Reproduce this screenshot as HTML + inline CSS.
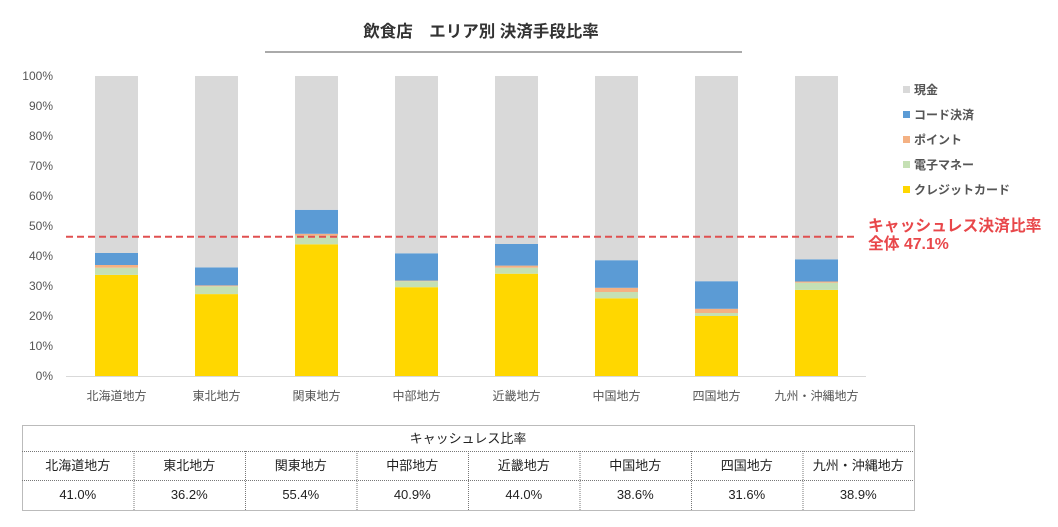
<!DOCTYPE html>
<html><head><meta charset="utf-8"><style>
body{margin:0;background:#fff;}
svg{display:block;font-family:"Liberation Sans","Noto Sans CJK JP",sans-serif;}
</style></head><body>
<svg id="chart" width="1058" height="527">
<text x="481" y="37" text-anchor="middle" font-size="16.5" font-weight="bold" fill="#333">飲食店　エリア別 決済手段比率</text>
<line x1="265" y1="52" x2="742" y2="52" stroke="#555" stroke-width="1"/>
<g id="yaxis"></g>
<g id="bars"></g>
<g id="xaxis"></g>
<g id="legend"></g>
<g id="refline"></g>
<g id="table"></g>
</svg>
<script>
const categories=["北海道地方","東北地方","関東地方","中部地方","近畿地方","中国地方","四国地方","九州・沖縄地方"];
const credit=[33.7,27.3,43.9,29.6,34.1,25.9,20.0,28.7];
const emoney=[2.4,2.6,2.9,2.0,2.0,2.1,1.0,2.4];
const point=[0.9,0.3,0.6,0.2,0.7,1.4,1.4,0.4];
const code=[4.0,6.0,8.0,9.1,7.2,9.2,9.2,7.4];
const cashlessLabels=["41.0%","36.2%","55.4%","40.9%","44.0%","38.6%","31.6%","38.9%"];
const yTicks=[0,10,20,30,40,50,60,70,80,90,100];
const average=47.1;
const NS="http://www.w3.org/2000/svg";
function mk(tag,attrs,parent,txt){const e=document.createElementNS(NS,tag);for(const k in attrs)e.setAttribute(k,attrs[k]);if(txt!==undefined)e.textContent=txt;parent.appendChild(e);return e;}
const y=v=>376-v*3;
const xc=i=>116.5+i*100;
const barW=43;
const yg=document.getElementById('yaxis');
yTicks.forEach(t=>{const e=mk('text',{x:53,y:y(t)+4,'text-anchor':'end','font-size':12,fill:'#555'},yg,t+'%');

});
const axisLine=mk('line',{x1:66,y1:376.5,x2:866,y2:376.5,stroke:'#d9d9d9'},yg);


const series=[["credit",credit,"#ffd700"],["emoney",emoney,"#c5e0b4"],["point",point,"#f4b183"],["code",code,"#5b9bd5"]];
const bg=document.getElementById('bars');
categories.forEach((c,i)=>{
 let base=0;
 series.forEach(([n,arr,col])=>{
  const v=arr[i];
  const r=mk('rect',{x:xc(i)-barW/2,y:y(base+v),width:barW,height:v*3,fill:col},bg);
  
  
  base+=v;
 });
 const r=mk('rect',{x:xc(i)-barW/2,y:y(100),width:barW,height:(100-base)*3,fill:'#d9d9d9'},bg);
 
 
 const t=mk('text',{x:xc(i),y:400,'text-anchor':'middle','font-size':12,fill:'#555'},document.getElementById('xaxis'),c);
 
 
});
const lg=document.getElementById('legend');
const legendItems=[["現金","#d9d9d9"],["コード決済","#5b9bd5"],["ポイント","#f4b183"],["電子マネー","#c5e0b4"],["クレジットカード","#ffd700"]];
legendItems.forEach(([n,col],k)=>{
 const yy=89+k*25;
 const s=mk('rect',{x:903,y:yy-3,width:7,height:7,fill:col},lg);
 
 
 const t=mk('text',{x:914,y:yy+5,'font-size':12,'font-weight':'bold',fill:'#555'},lg,n);
 
 
});
const rl=document.getElementById('refline');
const ln=mk('line',{x1:66,y1:y(average)+2,x2:856,y2:y(average)+2,stroke:'#e05050','stroke-width':2,'stroke-dasharray':'7,4'},rl);


const t1=mk('text',{x:868,y:231,'font-size':15.8,'font-weight':'bold',fill:'#e8474a'},rl,'キャッシュレス決済比率');


const t2=mk('text',{x:868,y:249,'font-size':15.8,'font-weight':'bold',fill:'#e8474a'},rl,'全体 '+average+'%');


const tb=document.getElementById('table');
const L=22,R=914,T=425,r1=451,r2=480,B=510,cw=(R-L)/8;
const st={stroke:'#777','stroke-dasharray':'1,1',fill:'none','stroke-width':1};
const box=mk('rect',Object.assign({x:L+.5,y:T+.5,width:R-L,height:B-T},st),tb);


[r1,r2].forEach(yy=>{mk('line',Object.assign({x1:L,y1:yy+.5,x2:R,y2:yy+.5},st),tb);});
for(let i=1;i<8;i++){mk('line',Object.assign({x1:L+i*cw+.5,y1:r1,x2:L+i*cw+.5,y2:B},st),tb);}
const th=mk('text',{x:(L+R)/2,y:443,'text-anchor':'middle','font-size':13,fill:'#222'},tb,'キャッシュレス比率');


categories.forEach((c,i)=>{
 const a=mk('text',{x:L+cw*(i+.5),y:470,'text-anchor':'middle','font-size':13,fill:'#222'},tb,c);
 
 
 const b=mk('text',{x:L+cw*(i+.5),y:499,'text-anchor':'middle','font-size':13,fill:'#222'},tb,cashlessLabels[i]);
 
 
});
</script>
</body></html>
